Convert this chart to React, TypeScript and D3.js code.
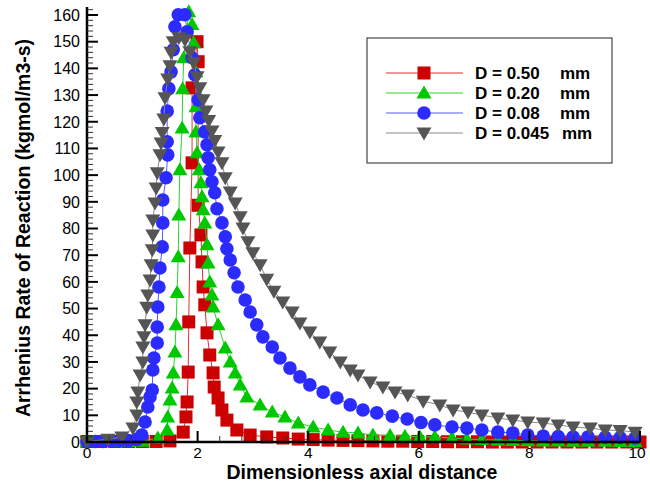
import React from "react";
import * as d3 from "d3";

type P = [number, number];

const seriesLabels = ["D = 0.50", "D = 0.20", "D = 0.08", "D = 0.045"];
const unitLabel = "mm";
const xTicks = [0, 2, 4, 6, 8, 10];
const yTicks = [0, 10, 20, 30, 40, 50, 60, 70, 80, 90, 100, 110, 120, 130, 140, 150, 160];

const red: P[] = [
  [0, 0.2], [0.25, 0.2], [0.5, 0.2], [0.75, 0.2], [1.0, 0.2], [1.25, 0.2], [1.5, 0.4],
  [1.74, 3.7], [1.79, 9.4], [1.81, 15.0], [1.83, 26.2], [1.84, 45.0], [1.86, 72.7], [1.9, 104.6],
  [1.9, 132.7], [1.99, 150.0], [2.01, 142.5], [2.01, 88.7], [2.06, 77.6], [2.08, 67.5], [2.1, 58.1],
  [2.13, 51.4], [2.17, 40.9], [2.22, 32.6], [2.28, 25.9], [2.3, 20.6], [2.37, 16.5], [2.44, 12.0],
  [2.53, 8.2], [2.71, 4.5], [2.95, 2.6], [3.25, 1.9], [3.54, 1.5], [3.82, 1.1], [4.09, 0.9],
  [4.36, 0.7], [4.63, 0.6], [4.9, 0.5], [5.17, 0.4], [5.44, 0.3], [5.71, 0.3], [5.98, 0.2],
  [6.25, 0.2], [6.52, 0.1], [6.79, 0.1], [7.06, 0.1], [7.33, 0.0], [7.6, 0.0], [7.87, 0.0],
  [8.14, 0.0], [8.41, 0.0], [8.68, 0.0], [8.95, 0.0], [9.22, 0.0], [9.49, 0.0], [9.76, 0.0], [10.0, 0.0],
];

const green: P[] = [
  [0, 0.2], [0.25, 0.2], [0.5, 0.2], [0.75, 0.2], [1.0, 0.3], [1.28, 1.5], [1.45, 4.5], [1.46, 9.4],
  [1.5, 15.7], [1.54, 20.2], [1.56, 25.9], [1.59, 33.7], [1.61, 43.9], [1.63, 56.0], [1.65, 69.4],
  [1.66, 85.1], [1.68, 102.0], [1.72, 117.7], [1.73, 132.4], [1.75, 144.0], [1.84, 161.2],
  [1.9, 156.4], [1.93, 149.6], [1.97, 138.7], [1.97, 125.6], [1.97, 116.2], [1.99, 108.4],
  [2.03, 102.0], [2.06, 97.1], [2.08, 91.9], [2.1, 87.0], [2.13, 82.1], [2.17, 73.9], [2.19, 67.1],
  [2.22, 60.0], [2.26, 55.1], [2.28, 50.6], [2.37, 43.9], [2.5, 35.2], [2.59, 30.0], [2.68, 25.9],
  [2.77, 21.4], [2.89, 16.9], [3.13, 13.9], [3.35, 11.2], [3.58, 9.4], [3.82, 7.1], [4.09, 5.6],
  [4.36, 4.5], [4.63, 3.7], [4.9, 3.4], [5.17, 2.6], [5.48, 2.4], [5.75, 2.2], [6.02, 1.9],
  [6.29, 1.9], [6.6, 1.5], [6.87, 1.1], [7.14, 0.9], [7.43, 0.7], [7.7, 0.6], [7.97, 0.5],
  [8.25, 0.4], [8.52, 0.4], [8.79, 0.3], [9.06, 0.3], [9.37, 0.3], [9.64, 0.2], [9.91, 0.2],
];

const blue: P[] = [
  [0, 0.2], [0.15, 0.2], [0.3, 0.2], [0.45, 0.3], [0.6, 0.4], [0.75, 0.5], [0.9, 1.0], [0.99, 2.6],
  [1.05, 7.5], [1.1, 13.1], [1.14, 16.9], [1.18, 19.5], [1.19, 27.0], [1.21, 31.5], [1.27, 37.1],
  [1.27, 43.1], [1.28, 50.6], [1.3, 58.1], [1.32, 65.2], [1.36, 73.1], [1.37, 82.1], [1.37, 90.7],
  [1.43, 99.0], [1.46, 107.6], [1.45, 112.5], [1.45, 124.0], [1.48, 132.4], [1.52, 138.7],
  [1.56, 147.0], [1.59, 155.6], [1.65, 160.1], [1.77, 160.1], [1.81, 153.7], [1.9, 144.0],
  [1.95, 137.6], [2.01, 128.2], [2.04, 121.5], [2.13, 116.2], [2.17, 111.4], [2.19, 106.5],
  [2.22, 102.0], [2.26, 97.5], [2.31, 93.4], [2.35, 87.4], [2.44, 82.1], [2.5, 76.9], [2.53, 72.4],
  [2.59, 68.2], [2.66, 63.4], [2.73, 58.1], [2.86, 53.2], [2.95, 48.7], [3.07, 43.9], [3.18, 39.4],
  [3.35, 35.6], [3.49, 31.5], [3.67, 27.7], [3.85, 24.4], [4.03, 21.4], [4.27, 18.7], [4.52, 16.5],
  [4.76, 13.9], [4.99, 12.0], [5.24, 10.9], [5.52, 9.7], [5.79, 8.6], [6.04, 7.3], [6.29, 6.4],
  [6.6, 5.6], [6.87, 5.2], [7.14, 4.5], [7.43, 3.7], [7.7, 3.4], [7.97, 2.6], [8.25, 2.2],
  [8.52, 2.0], [8.79, 1.9], [9.06, 1.9], [9.37, 1.8], [9.64, 1.7], [9.91, 1.5],
];

const gray: P[] = [
  [0, 0.2], [0.38, 1.0], [0.63, 1.9], [0.83, 5.2], [0.9, 10.1], [0.9, 15.0], [0.92, 18.7],
  [0.96, 25.1], [1.01, 30.0], [1.01, 35.6], [1.03, 39.4], [1.05, 43.9], [1.08, 50.5], [1.1, 55.1],
  [1.14, 60.7], [1.16, 66.4], [1.18, 72.0], [1.19, 77.6], [1.19, 83.2], [1.23, 89.6], [1.25, 95.2],
  [1.27, 100.9], [1.32, 107.6], [1.34, 112.0], [1.36, 116.0], [1.39, 121.0], [1.41, 129.0],
  [1.46, 136.0], [1.5, 141.0], [1.52, 146.0], [1.56, 150.0], [1.66, 151.5], [1.77, 150.7],
  [1.86, 146.2], [1.93, 142.1], [1.99, 136.9], [2.04, 132.7], [2.1, 128.2], [2.15, 124.0],
  [2.2, 120.5], [2.26, 116.5], [2.31, 113.0], [2.37, 108.7], [2.44, 104.6], [2.5, 99.0],
  [2.59, 93.7], [2.68, 89.6], [2.77, 84.4], [2.82, 80.2], [2.91, 75.0], [3.0, 70.9], [3.13, 66.4],
  [3.25, 61.0], [3.38, 56.5], [3.54, 52.5], [3.71, 48.7], [3.85, 44.6], [4.03, 41.2], [4.21, 37.5],
  [4.39, 33.7], [4.58, 30.0], [4.76, 27.0], [4.9, 25.1], [5.12, 22.5], [5.35, 20.6], [5.57, 18.7],
  [5.8, 17.6], [6.08, 15.3], [6.38, 13.9], [6.62, 12.0], [6.89, 11.2], [7.14, 10.1], [7.43, 9.0],
  [7.7, 8.2], [7.97, 7.5], [8.25, 7.1], [8.52, 6.4], [8.79, 5.6], [9.1, 5.2], [9.37, 4.5],
  [9.64, 4.3], [9.91, 3.7],
];

const FONT = "'Liberation Sans', Arial, Helvetica, sans-serif";

type Shape = "square" | "tri" | "circle" | "tridown";

function Marker({ shape, x, y, fill }: { shape: Shape; x: number; y: number; fill: string }) {
  if (shape === "square") return <rect x={x - 6.5} y={y - 6.5} width={13} height={13} fill={fill} />;
  if (shape === "circle") return <circle cx={x} cy={y} r={6.8} fill={fill} />;
  if (shape === "tri")
    return <path d={`M${x},${y - 7.5}L${x + 7.5},${y + 5.5}L${x - 7.5},${y + 5.5}Z`} fill={fill} />;
  return <path d={`M${x - 7.5},${y - 5.5}L${x + 7.5},${y - 5.5}L${x},${y + 7.5}Z`} fill={fill} />;
}

export default function App() {
  const x = d3.scaleLinear().domain([0, 10]).range([87, 640]);
  const y = d3.scaleLinear().domain([0, 163]).range([442, 7]);

  const series = [
    { data: red, shape: "square" as Shape, fill: "#cc0000", line: "#e03030", label: seriesLabels[0] },
    { data: green, shape: "tri" as Shape, fill: "#00c800", line: "#30d030", label: seriesLabels[1] },
    { data: blue, shape: "circle" as Shape, fill: "#2b2bff", line: "#5a5aff", label: seriesLabels[2] },
    { data: gray, shape: "tridown" as Shape, fill: "#555555", line: "#8a8a8a", label: seriesLabels[3] },
  ];

  const lineGen = d3
    .line<P>()
    .x((d) => x(d[0]))
    .y((d) => y(d[1]));

  const xMinor = d3.range(0, 10.0001, 0.4).filter((v) => Math.abs(v / 2 - Math.round(v / 2)) > 1e-6);
  const yMinor = d3.range(0, 163, 2).filter((v) => v % 10 !== 0);

  const legendRows = [73, 93, 113, 133];

  return (
    <svg width={650} height={486} style={{ position: "absolute", left: 0, top: 0, background: "#fff" }}>
      <rect x={0} y={0} width={650} height={486} fill="#fff" />
      {series.map((s, i) => (
        <g key={i}>
          <path d={lineGen(s.data) || ""} fill="none" stroke={s.line} strokeWidth={1} />
          {s.data.map((d, j) => (
            <Marker key={j} shape={s.shape} x={x(d[0])} y={y(d[1])} fill={s.fill} />
          ))}
        </g>
      ))}

      {/* Y axis */}
      <line x1={x(0)} x2={x(0)} y1={y(163)} y2={y(0) + 1} stroke="#000" strokeWidth={2.5} />
      {yTicks.map((t) => (
        <g key={t}>
          <line x1={x(0)} x2={x(0) + 11} y1={y(t)} y2={y(t)} stroke="#000" strokeWidth={2} />
          <text x={80} y={y(t)} dy="0.36em" textAnchor="end" fontFamily={FONT} fontSize={16} fill="#000">
            {t}
          </text>
        </g>
      ))}
      {yMinor.map((t) => (
        <line key={t} x1={x(0)} x2={x(0) + 6} y1={y(t)} y2={y(t)} stroke="#333" strokeWidth={1} />
      ))}

      {/* X axis */}
      <line x1={x(0) - 1} x2={x(10)} y1={y(0)} y2={y(0)} stroke="#000" strokeWidth={2.5} />
      {xTicks.map((t) => (
        <g key={t}>
          <line x1={x(t)} x2={x(t)} y1={y(0)} y2={y(0) - 11} stroke="#000" strokeWidth={2} />
          <text x={x(t) + (t === 10 ? -3 : 0)} y={458} textAnchor="middle" fontFamily={FONT} fontSize={15.5} fill="#000">
            {t}
          </text>
        </g>
      ))}
      {xMinor.map((t) => (
        <line key={t} x1={x(t)} x2={x(t)} y1={y(0)} y2={y(0) - 6} stroke="#333" strokeWidth={1} />
      ))}

      {/* Axis titles */}
      <text x={362} y={479} textAnchor="middle" fontFamily={FONT} fontSize={19.5} fontWeight="bold" fill="#000">
        Dimensionless axial distance
      </text>
      <text
        transform={`translate(30,228) rotate(-90)`}
        textAnchor="middle"
        fontFamily={FONT}
        fontSize={19.5}
        fontWeight="bold"
        fill="#000"
      >
        Arrhenius Rate of Reaction (kgmol/m3-s)
      </text>

      {/* Legend */}
      <rect x={367} y={38} width={245} height={125} fill="#fff" stroke="#222" strokeWidth={1} />
      {series.map((s, i) => (
        <g key={i}>
          <line x1={386} x2={463} y1={legendRows[i]} y2={legendRows[i]} stroke={s.line} strokeWidth={1} />
          <Marker shape={s.shape} x={424} y={legendRows[i]} fill={s.fill} />
          <text x={475} y={legendRows[i]} dy="0.36em" fontFamily={FONT} fontSize={17} fontWeight="bold" fill="#000">
            {s.label}
          </text>
          <text x={i === 3 ? 562 : 560} y={legendRows[i]} dy="0.36em" fontFamily={FONT} fontSize={17} fontWeight="bold" fill="#000">
            {unitLabel}
          </text>
        </g>
      ))}
    </svg>
  );
}
